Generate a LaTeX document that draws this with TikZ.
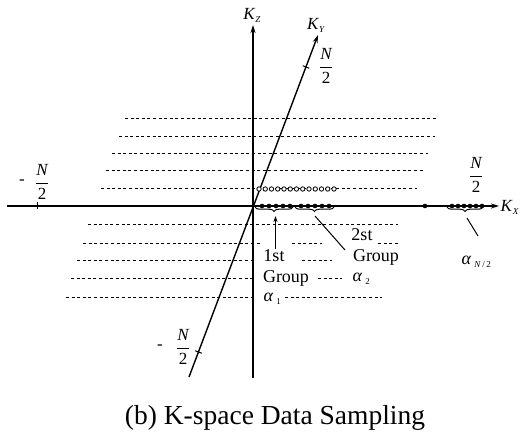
\documentclass[tikz,border=0pt]{standalone}
\usepackage{fontspec}
\setmainfont{Liberation Serif}
\usetikzlibrary{arrows.meta,decorations.pathreplacing,calc}
\begin{document}
\begin{tikzpicture}[x=1pt,y=-1pt,
  axisline/.style={line width=1.4pt,-{Stealth[length=8pt,width=5pt]}},
  gridline/.style={line width=1pt,dash pattern=on 3pt off 2.6pt},
  lbl/.style={font=\fontsize{18}{19}\selectfont,inner sep=0.5pt,fill=white},
  frac/.style={font=\fontsize{17}{18}\selectfont,inner sep=0.5pt},
  axlbl/.style={font=\fontsize{17}{18}\selectfont,inner sep=0.5pt},
  dotpt/.style={fill=black,draw=none},
  ocirc/.style={draw=black,fill=white,line width=0.8pt},
  bracestyle/.style={decorate,decoration={brace,mirror,amplitude=4.5pt},line width=1pt},
  pointer/.style={line width=1pt}
]
\useasboundingbox (0,0) rectangle (528,443);
\newcommand{\sbs}[1]{\raisebox{-3pt}{\fontsize{9}{9}\selectfont #1}}
\newcommand{\halfN}{$\displaystyle\frac{\textit{N}}{\textrm{2}}$}

% dashed lines above the Kx axis
\draw[gridline] (125,119) -- (438,119);
\draw[gridline] (119,137) -- (435,137);
\draw[gridline] (112,154) -- (428,154);
\draw[gridline] (106,171) -- (423,171);
\draw[gridline] (101,189) -- (417,189);
% dashed lines below
\draw[gridline] (88,225) -- (398,225);
\draw[gridline] (83,244) -- (260,244);
\draw[gridline] (292,244) -- (322,244);
\draw[gridline] (378,244) -- (400,244);
\draw[gridline] (77,261) -- (253,261);
\draw[gridline] (302,261) -- (332,261);
\draw[gridline] (71,279) -- (253,279);
\draw[gridline] (318,279) -- (342,279);
\draw[gridline] (66,298) -- (253,298);
\draw[gridline] (285,298) -- (382,298);

% axes
\coordinate (xl) at (7,206);
\coordinate (xr) at (499,206);
\coordinate (zb) at (253,378);
\coordinate (zt) at (253,25);
\coordinate (yb) at (189,377);
\coordinate (yt) at (318,35);
\draw[axisline] (xl) -- (xr);
\draw[axisline] (zb) -- (zt);
\draw[axisline] (yb) -- (yt);

\node[axlbl] (kz) at (252,15) {\textit{K}\sbs{\textit{Z}}};
\node[axlbl] (ky) at (316,25) {\textit{K}\sbs{\textit{Y}}};
\node[axlbl,anchor=west] (kx) at (500,207) {\textit{K}\sbs{\textit{X}}};

% ticks
\coordinate (tkl) at (37,206);
\draw[line width=1pt] ($(tkl)+(0,-3.5)$) -- ($(tkl)+(0,3.5)$);
\coordinate (tku) at (306,67);
\coordinate (tkd) at (198.5,352);
\draw[line width=1pt] ($(tku)!3.5pt!90:(yt)$) -- ($(tku)!3.5pt!-90:(yt)$);
\draw[line width=1pt] ($(tkd)!3.5pt!90:(yt)$) -- ($(tkd)!3.5pt!-90:(yt)$);

% N/2 labels
\node[frac] (nl) at (42,182) {\halfN};
\node[frac] (nlm) at (22,182) {-};
\node[frac] (nr) at (476,175) {\halfN};
\node[frac] (nu) at (326,66) {\halfN};
\node[frac] (nd) at (183,347) {\halfN};
\node[frac] (ndm) at (160,347) {-};

% open circles on the first line above
\foreach \i in {0,...,12} {
  \path[ocirc] ({259+6.25*\i},189) circle (2.2pt);
}

% sample dots on Kx
\foreach \x in {262,269,276,283,290,301,308,315,322,329,425,452,458,464,470,476,482} {
  \fill[dotpt] (\x,206) circle (2.3pt);
}

% braces
\coordinate (b1l) at (255,207);
\coordinate (b1r) at (293,207);
\coordinate (b2l) at (295,207);
\coordinate (b2r) at (334,207);
\coordinate (b3l) at (447,207);
\coordinate (b3r) at (483,207);
\draw[bracestyle] (b1l) -- (b1r);
\draw[bracestyle] (b2l) -- (b2r);
\draw[bracestyle] (b3l) -- (b3r);
\coordinate (b1tip) at (275.5,216);
\coordinate (b2tip) at (315,216);
\coordinate (b3tip) at (467,218);

% group labels
\node[lbl] (first) at (274,256) {1st};
\node[lbl] (g1) at (286,278) {Group};
\node[lbl,anchor=west] (a1) at (263,299) {\textit{α}\,\sbs{1}};
\node[lbl] (second) at (362,235) {2st};
\node[lbl] (g2) at (376,257) {Group};
\node[lbl,anchor=west] (a2) at (352,279) {\textit{α}\,\sbs{2}};
\node[lbl,anchor=west] (an) at (461,262) {\textit{α}\,\sbs{\textit{N}\,/\,2}};

\coordinate (c2end) at (345,250);
\coordinate (c3end) at (478,236);
\draw[pointer,-{Stealth[length=6pt,width=4pt]}] (b1tip |- first.north) -- (b1tip);
\draw[pointer] (b2tip) -- (c2end);
\draw[pointer] (b3tip) -- (c3end);

% caption
\node[font=\fontsize{27.5}{30}\selectfont,inner sep=0pt] (cap) at (275,418) {(b) K-space Data Sampling};
\end{tikzpicture}
\end{document}
